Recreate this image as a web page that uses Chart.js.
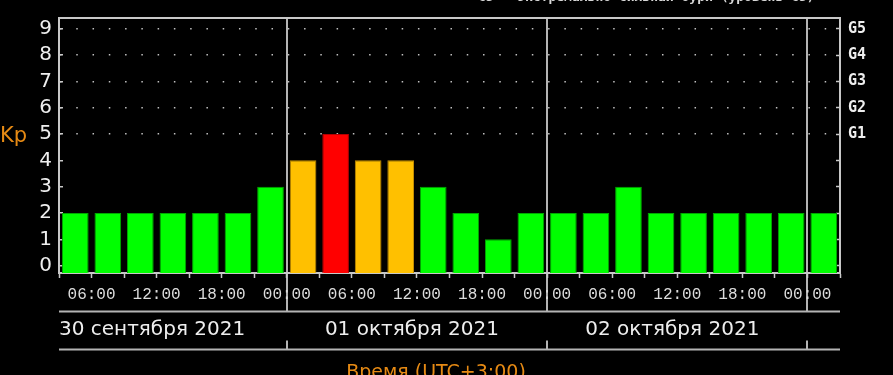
<!DOCTYPE html>
<html>
<head>
<meta charset="utf-8">
<script src="https://cdn.jsdelivr.net/npm/chart.js@4.4.0/dist/chart.umd.min.js"></script>
<style>
  html, body { margin: 0; padding: 0; background: #000; overflow: hidden; }
  canvas { display: block; }
</style>
</head>
<body>
<canvas id="chart" width="893" height="375"></canvas>
<script>
// Kp index in 3-hour slots, hours counted from 30 Sep 2021 03:00 (UTC+3)
const SLOT_START_HOURS = [0, 3, 6, 9, 12, 15, 18, 21, 24, 27, 30, 33, 36, 39, 42, 45, 48, 51, 54, 57, 60, 63, 66, 69];
const KP_VALUES = [2, 2, 2, 2, 2, 2, 3, 4, 5, 4, 4, 3, 2, 1, 2, 2, 2, 3, 2, 2, 2, 2, 2, 2];

const X_TICK_HOURS = [0, 3, 6, 9, 12, 15, 18, 21, 24, 27, 30, 33, 36, 39, 42, 45, 48, 51, 54, 57, 60, 63, 66, 69, 72];
const X_TICK_LABELS = ['', '06:00', '', '12:00', '', '18:00', '', '00:00', '', '06:00', '', '12:00', '',
  '18:00', '', '00:00', '', '06:00', '', '12:00', '', '18:00', '', '00:00', ''];

const DAY_LABELS = ['30 сентября 2021', '01 октября 2021', '02 октября 2021'];
const DAY_START_HOURS = [-3, 21, 45];
const DAY_BOUNDARY_HOURS = [21, 45, 69];

const Y_TICKS = [0, 1, 2, 3, 4, 5, 6, 7, 8, 9];
const STORM_KP = [5, 6, 7, 8, 9];
const STORM_LEVELS = ['G1', 'G2', 'G3', 'G4', 'G5'];

const Y_MIN = -0.28;
const Y_MAX = 9.41;
const AXIS_GRAY = '#c8c8c8';
const ORANGE = '#e68a14';

function kpColor(v) {
  return v >= 5 ? '#ff0000' : v >= 4 ? '#ffc000' : '#00ff00';
}
function kpBorder(v) {
  return v >= 5 ? '#b40000' : v >= 4 ? '#c08a00' : '#00a800';
}

function line(ctx, x1, y1, x2, y2) {
  ctx.beginPath();
  ctx.moveTo(x1, y1);
  ctx.lineTo(x2, y2);
  ctx.stroke();
}

const decor = {
  id: 'decor',
  // day separators go under the tick labels, like in the original
  beforeDraw(chart) {
    const { ctx, chartArea: a, scales: { x } } = chart;
    ctx.save();
    ctx.strokeStyle = '#b4b4b4';
    ctx.lineWidth = 2;
    DAY_BOUNDARY_HOURS.forEach((h) => {
      const px = Math.round(x.getPixelForValue(h));
      line(ctx, px, a.top, px, 311.5);
      line(ctx, px, 340.5, px, 349.5);
    });
    ctx.restore();
  },
  afterDraw(chart) {
    const { ctx, chartArea: a, scales: { x } } = chart;
    ctx.save();
    ctx.strokeStyle = AXIS_GRAY;
    ctx.lineWidth = 2;
    line(ctx, a.left - 1, a.top, a.right + 1, a.top);
    ctx.strokeStyle = '#b4b4b4';
    line(ctx, a.left, 311.5, a.right, 311.5);
    line(ctx, a.left, 349.5, a.right, 349.5);

    ctx.fillStyle = '#eeeeee';
    ctx.font = '20px "DejaVu Sans"';
    ctx.textBaseline = 'middle';
    ctx.textAlign = 'center';
    DAY_LABELS.forEach((t, i) => {
      const cx = x.getPixelForValue(DAY_START_HOURS[i] + 12) - 5;
      const w = ctx.measureText(t).width;
      ctx.fillText(t, Math.max(cx, a.left + w / 2), 330);
    });

    ctx.fillStyle = ORANGE;
    ctx.font = '21px "DejaVu Sans"';
    ctx.textBaseline = 'alphabetic';
    ctx.textAlign = 'left';
    ctx.fillText('Kp', 0, 142);
    ctx.font = '19px "DejaVu Sans"';
    ctx.textAlign = 'center';
    ctx.fillText('Время (UTC+3:00)', 436, 378);

    ctx.fillStyle = '#d8d8d8';
    ctx.font = 'bold 13px "DejaVu Sans Mono"';
    ctx.textAlign = 'left';
    ctx.fillText('G5 - экстремально сильная буря (уровень G5)', 478, 1);
    ctx.restore();
  },
};

const noPadY = (w) => (s) => { s.width = w; s.paddingTop = 0; s.paddingBottom = 0; };

const ctx = document.getElementById('chart').getContext('2d');
new Chart(ctx, {
  type: 'bar',
  data: {
    datasets: [{
      data: SLOT_START_HOURS.map((h, i) => ({ x: h + 1.5, y: KP_VALUES[i] })),
      base: Y_MIN,
      backgroundColor: (c) => kpColor(c.raw.y),
      borderColor: (c) => kpBorder(c.raw.y),
      borderWidth: 1,
      barPercentage: 0.82,
      categoryPercentage: 1,
    }],
  },
  options: {
    responsive: false,
    animation: false,
    events: [],
    layout: { padding: { top: 18, left: 0, right: 0, bottom: 0 } },
    plugins: { legend: { display: false }, tooltip: { enabled: false } },
    scales: {
      x: {
        type: 'linear',
        position: 'bottom',
        min: 0,
        max: 72,
        offset: false,
        afterBuildTicks: (s) => { s.ticks = X_TICK_HOURS.map((v) => ({ value: v })); },
        afterFit: (s) => { s.height = 102; s.paddingLeft = 0; s.paddingRight = 0; },
        grid: { offset: false, drawOnChartArea: false, tickLength: 5, tickColor: AXIS_GRAY, tickWidth: 1.5 },
        border: { color: AXIS_GRAY, width: 2 },
        ticks: {
          autoSkip: false,
          maxRotation: 0,
          padding: 7,
          color: '#dcdcdc',
          font: { family: 'Liberation Mono', size: 16 },
          callback: (v, i) => X_TICK_LABELS[i],
        },
      },
      y: {
        position: 'left',
        min: Y_MIN,
        max: Y_MAX,
        afterBuildTicks: (s) => { s.ticks = Y_TICKS.map((v) => ({ value: v })); },
        afterFit: noPadY(59),
        grid: {
          color: (c) => (c.tick && c.tick.value >= 5 ? '#c0c0c0' : 'rgba(0,0,0,0)'),
          lineWidth: 1.5,
          tickLength: -4,
          tickColor: AXIS_GRAY,
          tickWidth: 1.5,
        },
        border: { color: AXIS_GRAY, width: 2, dash: [1.5, 14.77], dashOffset: 0 },
        ticks: { padding: 11, color: '#eeeeee', font: { family: 'DejaVu Sans', size: 20 } },
      },
      y2: {
        position: 'right',
        min: Y_MIN,
        max: Y_MAX,
        afterBuildTicks: (s) => { s.ticks = Y_TICKS.map((v) => ({ value: v })); },
        afterFit: noPadY(53),
        grid: { drawOnChartArea: false, tickLength: -4, tickColor: AXIS_GRAY, tickWidth: 1.5 },
        border: { color: AXIS_GRAY, width: 2 },
        ticks: {
          padding: 12,
          color: '#eeeeee',
          font: { family: 'DejaVu Sans Mono', size: 15, weight: 'bold' },
          callback: (v) => {
            const k = STORM_KP.indexOf(v);
            return k >= 0 ? STORM_LEVELS[k] : '';
          },
        },
      },
    },
  },
  plugins: [decor],
});
</script>
</body>
</html>
